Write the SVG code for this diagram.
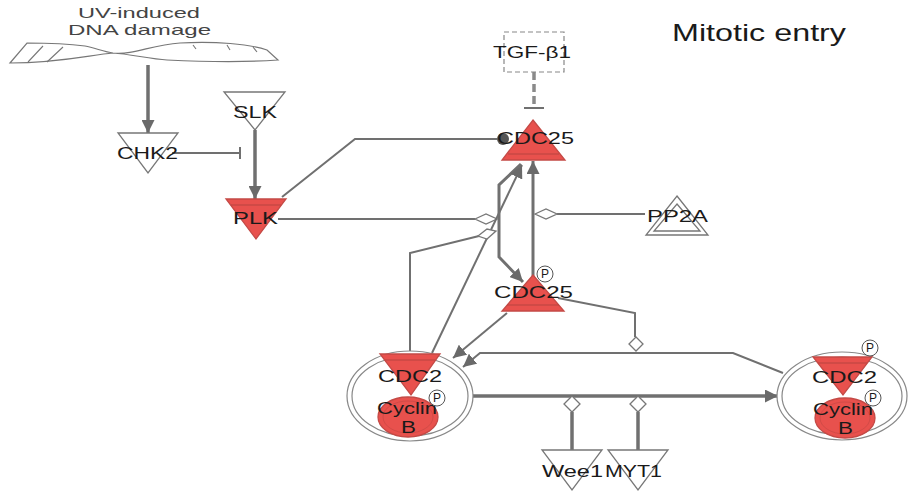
<svg xmlns="http://www.w3.org/2000/svg" width="912" height="492" viewBox="0 0 912 492">
<defs>
<style>
text{font-family:"Liberation Sans",Arial,sans-serif;fill:#1a1a1a}
.lbl{font-size:16px}
.wn{fill:#fff;stroke:#777;stroke-width:1.3}
.rd{fill:#e8514d;stroke:#c44a46;stroke-width:1.3}
.rin{stroke:#b84440;stroke-width:1.2;fill:none}
.e{fill:none;stroke:#707070;stroke-width:2}
.t{fill:none;stroke:#707070;stroke-width:3.5}
.m{fill:none;stroke:#707070;stroke-width:3}
.dia{fill:#fff;stroke:#777;stroke-width:1.3}
.pc{fill:#fff;stroke:#555;stroke-width:1}
.pt{font-size:12px;text-anchor:middle}
</style>
<marker id="arr" markerUnits="userSpaceOnUse" viewBox="0 0 12 12" refX="12" refY="6" markerWidth="13" markerHeight="13" orient="auto">
<path d="M0,0 L12,6 L0,12 z" fill="#6a6a6a"/>
</marker>
</defs>
<rect width="912" height="492" fill="#fff"/>

<text x="672" y="41" font-size="24" textLength="174" lengthAdjust="spacingAndGlyphs">Mitotic entry</text>

<g id="connectors">
<path class="t" d="M148,65 V133" marker-end="url(#arr)"/>
<path class="e" d="M172,153 H240 M240,147 V159"/>
<path class="t" d="M255,130 V199" marker-end="url(#arr)"/>
<path class="e" d="M282,197 L355,139 H497"/>
<circle cx="503" cy="139" r="6" fill="#555"/>
<path class="e" d="M278,219 H475"/>
<polygon class="dia" points="475,219 486,214 497,219 486,224"/>
<path d="M534,72 V106" stroke="#8a8a8a" stroke-width="3.5" stroke-dasharray="8,4" fill="none"/>
<path class="e" d="M524,108 H544" stroke="#8a8a8a"/>
<path class="m" d="M533,276 V161" marker-end="url(#arr)"/>
<path class="m" d="M521,164 L499,185 V257 L523,282" marker-end="url(#arr)"/>
<path class="e" stroke-width="2.5" d="M432,353 L522,165" marker-end="url(#arr)"/>
<path class="e" d="M410,352 V253 L479,236"/>
<polygon class="dia" points="478,236 487,229 496,231 487,239"/>
<path class="e" d="M645,214 H557"/>
<polygon class="dia" points="535,214 546,209 557,214 546,219"/>
<path class="e" d="M507,313 L453,358" marker-end="url(#arr)"/>
<path class="e" d="M783,373 L733,353 H480 L463,367" marker-end="url(#arr)"/>
<path class="e" d="M558,298 L635,313 V337"/>
<polygon class="dia" points="636,337 643,344 636,351 629,344"/>
<path class="t" d="M473,396 H778" marker-end="url(#arr)"/>
<path class="t" d="M572,450 V412"/>
<polygon class="dia" points="572,396 580,404 572,412 564,404"/>
<path class="t" d="M638,450 V412"/>
<polygon class="dia" points="638,396 646,404 638,412 630,404"/>
</g>

<g id="uv">
<path d="M10,63 L27,43 C50,43 70,44 85,46 C95,48 105,52 113,53 C135,55 150,45 180,43 C215,41 250,44 267,50 L278,60 C250,62 210,62 167,60 C150,59 130,54 113,53 C90,55 60,63 10,63 Z" fill="#fff" stroke="#777" stroke-width="1.2"/>
<path d="M63,47 L47,62 M28,62 L43,46 M193,45 L196,49 M227,45 L230,50 M253,47 L257,52" stroke="#777" stroke-width="1.1" fill="none"/>
<text x="78" y="18" font-size="15" style="fill:#444" textLength="122" lengthAdjust="spacingAndGlyphs">UV-induced</text>
<text x="68" y="35" font-size="15" style="fill:#444" textLength="143" lengthAdjust="spacingAndGlyphs">DNA damage</text>
</g>

<g id="chk2">
<polygon class="wn" points="118,133 178,133 148,173"/>
<text class="lbl" x="117" y="159" textLength="61" lengthAdjust="spacingAndGlyphs">CHK2</text>
</g>

<g id="slk">
<polygon class="wn" points="224,92 285,92 255,130"/>
<text class="lbl" x="233" y="118" textLength="44" lengthAdjust="spacingAndGlyphs">SLK</text>
</g>

<g id="plk">
<polygon class="rd" points="226,199 286,199 256,239"/>
<path class="rin" d="M231,205 H281"/>
<text class="lbl" x="233" y="224" textLength="45" lengthAdjust="spacingAndGlyphs">PLK</text>
</g>

<g id="tgfb1">
<rect x="504" y="32" width="60" height="40" fill="#fff" stroke="#888" stroke-width="1.2" stroke-dasharray="5,3"/>
<text class="lbl" x="493" y="58" textLength="78" lengthAdjust="spacingAndGlyphs">TGF-β1</text>
</g>

<g id="cdc25">
<polygon class="rd" points="533,120 565,160 502,160"/>
<path class="rin" d="M508,154 H559"/>
<text class="lbl" x="497" y="144" textLength="77" lengthAdjust="spacingAndGlyphs">CDC25</text>
</g>

<g id="pp2a">
<polygon class="wn" points="677,196 708,235 646,235"/>
<polygon class="wn" points="677,204 700,231 654,231"/>
<text class="lbl" x="647" y="222" textLength="61" lengthAdjust="spacingAndGlyphs">PP2A</text>
</g>

<g id="cdc25p">
<polygon class="rd" points="533,275 564,311 502,311"/>
<path class="rin" d="M507,305 H559"/>
<text class="lbl" x="494" y="298" textLength="79" lengthAdjust="spacingAndGlyphs">CDC25</text>
<circle class="pc" cx="545" cy="274" r="8"/>
<text class="pt" x="545" y="278">P</text>
</g>

<g id="cdc2-cyclinb-left">
<ellipse cx="410" cy="396" rx="63" ry="45" fill="#fff" stroke="#888" stroke-width="1.2"/>
<ellipse cx="410" cy="396" rx="58" ry="40" fill="none" stroke="#888" stroke-width="1.2"/>
<ellipse class="rd" cx="408" cy="417" rx="30" ry="20"/>
<ellipse cx="408" cy="417" rx="25" ry="16" fill="none" stroke="#d24b47" stroke-width="1"/>
<polygon class="rd" points="380,354 440,354 411,395"/>
<path class="rin" d="M385,360 H435"/>
<text class="lbl" x="378" y="382" textLength="64" lengthAdjust="spacingAndGlyphs">CDC2</text>
<text class="lbl" x="377" y="414" textLength="60" lengthAdjust="spacingAndGlyphs">Cyclin</text>
<text class="lbl" x="401" y="433" textLength="15" lengthAdjust="spacingAndGlyphs">B</text>
<circle class="pc" cx="437" cy="398" r="8"/>
<text class="pt" x="437" y="402">P</text>
</g>

<g id="cdc2-cyclinb-right">
<ellipse cx="842" cy="396" rx="65" ry="44" fill="#fff" stroke="#888" stroke-width="1.2"/>
<ellipse cx="842" cy="396" rx="60" ry="39" fill="none" stroke="#888" stroke-width="1.2"/>
<ellipse class="rd" cx="845" cy="418" rx="30" ry="20"/>
<ellipse cx="845" cy="418" rx="25" ry="16" fill="none" stroke="#d24b47" stroke-width="1"/>
<polygon class="rd" points="813,357 872,357 843,395"/>
<path class="rin" d="M818,363 H867"/>
<text class="lbl" x="812" y="383" textLength="65" lengthAdjust="spacingAndGlyphs">CDC2</text>
<text class="lbl" x="813" y="415" textLength="60" lengthAdjust="spacingAndGlyphs">Cyclin</text>
<text class="lbl" x="838" y="434" textLength="15" lengthAdjust="spacingAndGlyphs">B</text>
<circle class="pc" cx="870" cy="348" r="8"/>
<text class="pt" x="870" y="352">P</text>
<circle class="pc" cx="873" cy="398" r="8"/>
<text class="pt" x="873" y="402">P</text>
</g>

<g id="wee1">
<polygon class="wn" points="542,450 602,450 572,490"/>
<text class="lbl" x="542" y="477" textLength="61" lengthAdjust="spacingAndGlyphs">Wee1</text>
</g>

<g id="myt1">
<polygon class="wn" points="608,450 668,450 638,490"/>
<text class="lbl" x="605" y="477" textLength="57" lengthAdjust="spacingAndGlyphs">MYT1</text>
</g>
</svg>
